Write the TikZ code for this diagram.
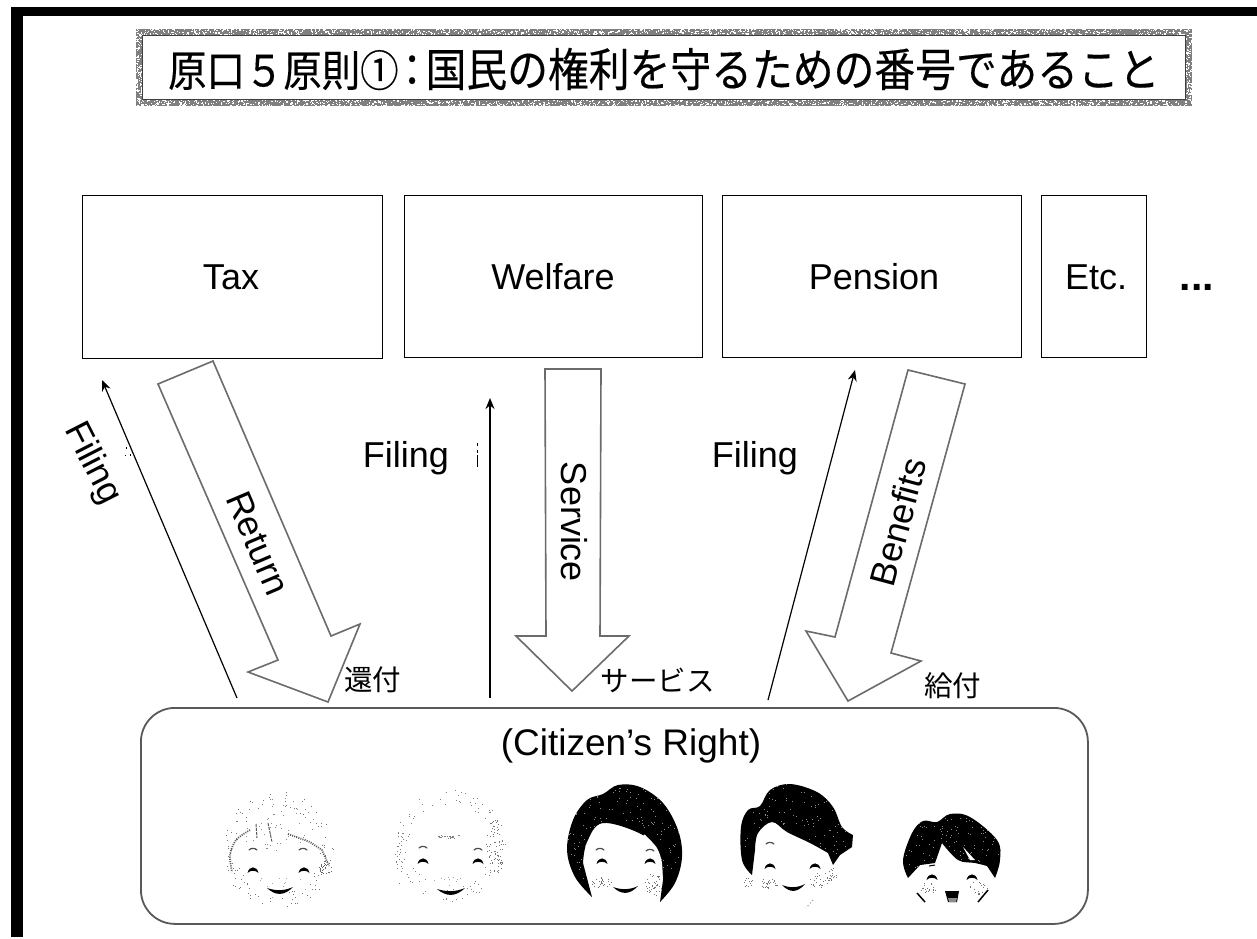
\documentclass[tikz,border=0pt]{standalone}
\usepackage{graphicx}
\usepackage{fontspec}
\setmainfont{Liberation Sans}
\newfontfamily\cjk{Noto Sans CJK JP}
\newfontfamily\cjkb[FakeBold=0.35]{Noto Sans CJK JP}
\usetikzlibrary{arrows.meta}
\def\spS{1.1}
\newcommand{\speckle}[6]{%
  \foreach \i in {1,...,#5}{%
    \pgfmathsetmacro\spA{rnd*360}\pgfmathsetmacro\spR{sqrt(rnd)}%
    \fill[#6] ({#1+#3*\spR*cos(\spA)},{#2+#4*\spR*sin(\spA)}) rectangle +(\spS,\spS);}}
\newcommand{\ringspeck}[6]{%
  \foreach \i in {1,...,#5}{%
    \pgfmathsetmacro\spA{rnd*360}\pgfmathsetmacro\spR{0.8+0.28*rnd}%
    \fill[#6] ({#1+#3*\spR*cos(\spA)},{#2+#4*\spR*sin(\spA)}) rectangle +(\spS,\spS);}}
\newcommand{\rectspeck}[6]{%
  \foreach \i in {1,...,#5}{%
    \pgfmathsetmacro\spX{#1+(#3-#1)*rnd}\pgfmathsetmacro\spY{#2+(#4-#2)*rnd}%
    \fill[#6] (\spX,\spY) rectangle +(1.2,1.2);}}
\newcommand{\myEye}[2]{\fill ({#1-5.5},{#2+3}) .. controls ({#1-4},{#2-4.5}) and ({#1+4},{#2-4.5}) .. ({#1+5.5},{#2+3}) .. controls ({#1+3},{#2}) and ({#1-3},{#2}) .. cycle;}
\newcommand{\myBrow}[2]{\draw[line width=1.2pt,line cap=round,black!70] ({#1-4},{#2+1}) .. controls ({#1-2},{#2-1.2}) and ({#1+2},{#2-1.2}) .. ({#1+4},{#2+1});}
\newcommand{\myMouth}[3]{\fill ({#1},{#3}) .. controls ({(#1*2+#2)/3},{#3+3}) and ({(#1+#2*2)/3},{#3+3}) .. ({#2},{#3-1}) .. controls ({(#1+#2*2)/3},{#3+8}) and ({(#1*2+#2)/3},{#3+8}) .. cycle;}
\newcommand{\myHair}[6]{\fill #1; \begin{scope}\clip #1; \def\spS{0.8}\speckle{#2}{#3}{#4}{#5}{#6}{black!45}\end{scope}}
\tikzset{
  lab/.style={font=\fontsize{36}{40}\selectfont,inner sep=0pt},
  jp/.style={font=\cjk\fontsize{28.5}{30}\selectfont,inner sep=0pt},
  org/.style={draw=black,line width=1pt,inner sep=0pt,anchor=north west},
  blockarrow/.style={draw=black!58,line width=1.6pt,fill=white,line join=miter},
  filearrow/.style={-{Stealth[length=11pt,width=9pt]},line width=1.2pt,black},
  stipdense/.style={draw=black!65,line width=1.8pt,dash pattern=on 1pt off 1.2pt},
}
\begin{document}
\begin{tikzpicture}[x=1pt,y=-1pt]
\useasboundingbox (0,0) rectangle (1257,938);
\fill[white] (0,0) rectangle (1257,938);
% black frame
\fill[black] (11,7) rectangle (1257,16);
\fill[black] (11,7) rectangle (23,937);
% title
\pgfmathsetseed{77}
\draw[black!50,line width=6pt] (139,32) rectangle (1188.5,102.5);
\rectspeck{135}{28}{1192}{35}{1300}{white}
\rectspeck{135}{99}{1192}{106}{1300}{white}
\rectspeck{135}{35}{142}{99}{120}{white}
\rectspeck{1185}{35}{1192}{99}{120}{white}
\draw[black!75,line width=1pt] (142,35) rectangle (1185,99);
\node[inner sep=0pt,anchor=west,font=\cjkb] (title) at (168,69) {\scalebox{1}[1.12]{{\fontsize{38.4}{44}\selectfont 原口５原則①}\kern-6.5pt{\fontsize{40}{44}\selectfont ：}\kern-6.5pt{\fontsize{40.8}{44}\selectfont 国民の権利を守るための番号であること}}};
% organisation boxes
\node[org,minimum width=300pt,minimum height=163pt] (tax) at (82,195) {};
\node[org,minimum width=298pt,minimum height=162pt] (welfare) at (404,195) {};
\node[org,minimum width=299pt,minimum height=162pt] (pension) at (722,195) {};
\node[org,minimum width=105pt,minimum height=162pt] (etc) at (1041,195) {};
\node[lab,anchor=base] (taxl) at (231,289) {Tax};
\node[lab,anchor=base] (welfl) at (553,289) {Welfare};
\node[lab,anchor=base] (penl) at (874,289) {Pension};
\node[lab,anchor=base] (etcl) at (1096,289) {Etc.};
\node[inner sep=0pt,anchor=base,font=\fontsize{41}{44}\selectfont\bfseries] (dots) at (1197,290) {...};
% citizens
\node[draw=black!65,line width=1.8pt,rounded corners=34pt,minimum width=947pt,minimum height=216pt,inner sep=0pt,anchor=north west] (citizen) at (140,707) {};
\node[inner sep=0pt,font=\fontsize{37}{40}\selectfont,anchor=base] (citl) at (631,755) {(Citizen’s Right)};
% filing arrows
\coordinate (fa1) at (237,698); \coordinate (fb1) at (102,380);
\coordinate (fa2) at (490,698); \coordinate (fb2) at (490,398);
\coordinate (fa3) at (768,700); \coordinate (fb3) at (855,370);
\draw[filearrow] (fa1) -- (fb1);
\draw[filearrow] (fa2) -- (fb2);
\draw[filearrow] (fa3) -- (fb3);
% block arrows
\draw[blockarrow] (213,361) -- (158,384) -- (278,660) -- (248,672) -- (328,702) -- (360,624) -- (331,636) -- cycle;
\draw[blockarrow] (545,369) -- (601,369) -- (600,636) -- (629,636) -- (572,691) -- (516,636) -- (546,636) -- cycle;
\draw[blockarrow] (908,370) -- (965,384) -- (891,653) -- (921,661) -- (848,701) -- (806,631) -- (835,637) -- cycle;
% labels
\node[lab,rotate=-63] (fil1) at (92,464) {Filing};
\node[lab,anchor=base] (fil2) at (406,467) {Filing};
\node[lab,anchor=base] (fil3) at (755,467) {Filing};
\node[lab,rotate=-67] (ret) at (258,543) {Return};
\node[lab,rotate=-90] (ser) at (574,522) {Service};
\node[lab,rotate=75] (ben) at (898,522) {Benefits};
\node[jp,anchor=center] (kan) at (372.5,680) {還付};
\node[jp,anchor=center] (sab) at (657.5,680) {サービス};
\node[jp,anchor=center] (kyu) at (952.5,686) {給付};
% scan specks
\fill (126,447) rectangle +(1,1.5); \fill (130,454) rectangle +(1.2,1.5); \fill (125,455) rectangle +(1.2,1.2);
\draw[line width=0.6pt] (477,443) -- (477,446) (477,450) -- (477,453) (477,455) -- (477,467);
\pgfmathsetseed{1257}
% face 1
\def\spS{0.9}
\ringspeck{278}{850}{52}{54}{110}{black!55}
\speckle{275}{825}{40}{28}{55}{black!45}
\speckle{280}{885}{28}{14}{12}{black!35}
\draw[stipdense] plot[smooth] coordinates {(250,830) (236,840) (230,855) (232,872)};
\draw[stipdense] (288,834) -- (310,842) -- (322,850) -- (329,866);
\draw[line width=1pt,black!65,dash pattern=on 3pt off 1pt] (256,824) -- (257,838) (268,823) -- (272,842);
\speckle{325}{868}{6}{8}{30}{black!60}
\myEye{253}{870}\myEye{304}{870}\myBrow{253}{849}\myBrow{303}{849}
\myMouth{267}{293}{888}
% face 2
\ringspeck{450}{845}{52}{52}{95}{black!50}
\speckle{495}{845}{9}{30}{70}{black!55}
\speckle{400}{855}{4}{30}{25}{black!50}
\rectspeck{435}{834}{460}{838}{14}{black!50}
\speckle{445}{880}{16}{6}{12}{black!35}
\myEye{423}{861}\myEye{478}{861}\myBrow{423}{847}\myBrow{478}{849}
\myMouth{437}{465}{889}
% face 3
\myHair{plot[smooth,tension=0.6] coordinates {(592,897) (575,877) (567,850) (573,820) (587,800) (603,794) (618,785) (640,787) (663,803) (678,830) (682,857) (675,883) (660,902)} -- plot[smooth,tension=0.6] coordinates {(663,880) (658,853) (643,835) (603,823) (587,842) (583,863)} -- cycle}{625}{840}{60}{55}{230}
\draw[white,line width=1.6pt] plot[smooth] coordinates {(644,835) (656,848) (661,862) (662,880)};
\def\spS{0.9}
\speckle{601}{882}{10}{6}{28}{black!55}
\speckle{654}{884}{9}{11}{45}{black!55}
\myEye{602}{861}\myEye{650}{861}\myBrow{600}{849}\myBrow{650}{850}
\myMouth{613}{638}{887}
% face 4
\myHair{plot[smooth,tension=0.6] coordinates {(752,875) (742,860) (741,827) (748,810) (760,806) (770,790) (790,784) (817,792) (833,807) (842,827) (853,835)} -- (852,847) -- plot[smooth,tension=0.5] coordinates {(840,855) (833,865)} -- plot[smooth,tension=0.6] coordinates {(828,853) (810,843) (787,832) (772,822) (758,833) (755,850)} -- cycle}{795}{825}{58}{42}{150}
\def\spS{0.9}
\speckle{768}{884}{10}{6}{28}{black!55}
\speckle{820}{880}{11}{8}{32}{black!55}
\speckle{748}{882}{5}{5}{12}{black!55}
\speckle{833}{873}{4}{6}{12}{black!55}
\myEye{770}{866}\myEye{815}{866}\myBrow{770}{843}
\myMouth{782}{805}{885}
\draw[black!50,line width=0.8pt,dash pattern=on 1pt off 2.5pt] (813,900) -- (806,908);
% face 5
\myHair{plot[smooth,tension=0.6] coordinates {(908,878) (903,860) (912,833) (923,821) (937,822) (950,814) (970,817) (997,840) (1000,860) (995,878)} -- plot[smooth,tension=0.6] coordinates {(987,866) (975,863) (958,860) (942,843)} -- (935,863) -- (920,865) -- cycle}{950}{845}{52}{34}{120}
\fill[white] (963,847) -- (975,860) -- (970,860) -- cycle;
\def\spS{0.9}
\speckle{928}{888}{9}{6}{20}{black!55}
\speckle{978}{888}{9}{8}{20}{black!55}
\draw[line width=1.5pt] (917,893) -- (925,902) (988,890) -- (978,902);
\myEye{932}{877}\myEye{972}{877}
\draw[line width=1pt] (929,866) -- (935,865);
\fill (945,891) -- (959,891) -- (957,902) -- (948,902) -- cycle;
\fill[black!45] (948,898) -- (957,898) -- (956,902) -- (949,902) -- cycle;
\end{tikzpicture}
\end{document}
